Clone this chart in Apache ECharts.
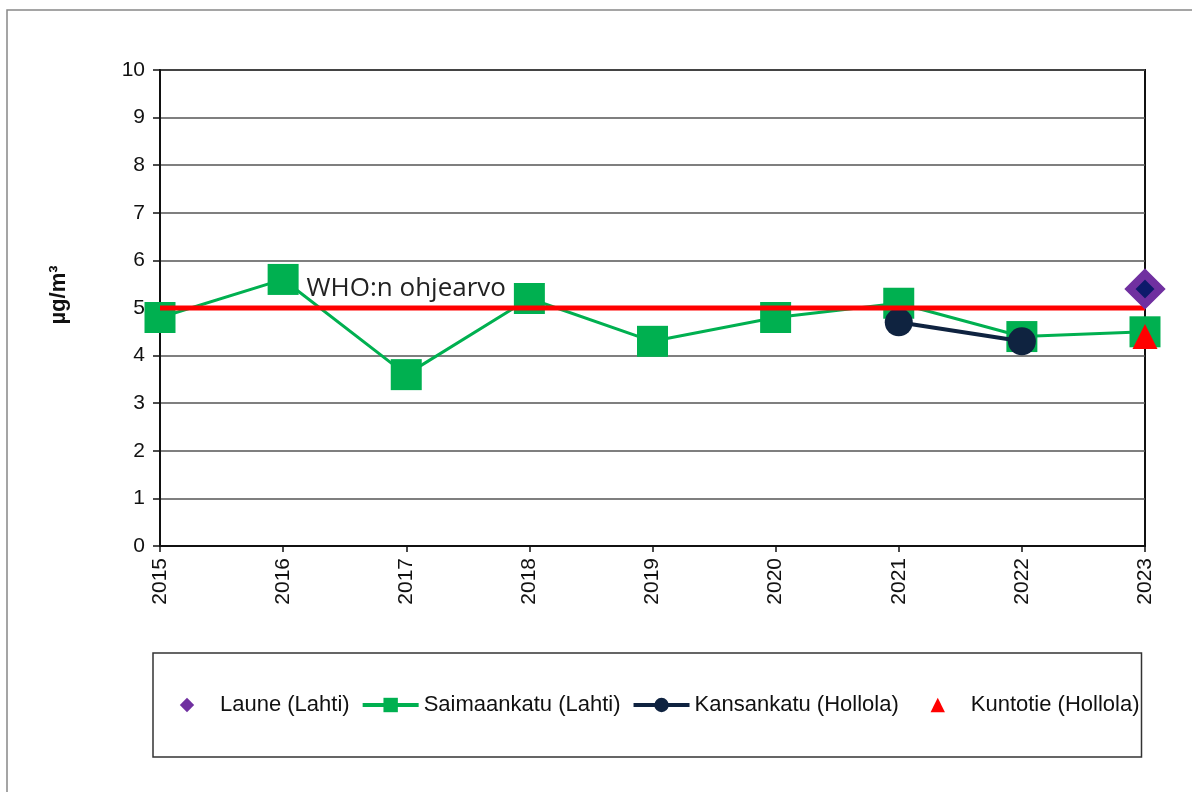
<!DOCTYPE html>
<html>
<head>
<meta charset="utf-8">
<script src="https://cdn.jsdelivr.net/npm/echarts@6/dist/echarts.min.js"></script>
<style>
  html, body { margin: 0; padding: 0; background: #fff; }
  #chart { width: 1192px; height: 792px; }
</style>
</head>
<body>
<div id="chart"></div>
<script>
// vuodet
var years = ["2015", "2016", "2017", "2018", "2019", "2020", "2021", "2022", "2023"];
// pitoisuudet ug/m3
var laune = [null, null, null, null, null, null, null, null, 5.4];
var saimaankatu = [4.8, 5.6, 3.6, 5.2, 4.3, 4.8, 5.1, 4.4, 4.5];
var kansankatu = [null, null, null, null, null, null, 4.7, 4.3, null];
var kuntotie = [null, null, null, null, null, null, null, null, 4.4];
// WHO:n ohjearvo
var who = [5, 5, 5, 5, 5, 5, 5, 5, 5];
var yTicks = [0, 1, 2, 3, 4, 5, 6, 7, 8, 9, 10];

var font = "Liberation Sans, Arial, sans-serif";
var chart = echarts.init(document.getElementById("chart"));

var option = {
  backgroundColor: "#fff",
  animation: false,
  graphic: [
    {
      type: "rect",
      shape: { x: 7, y: 10, width: 1200, height: 800 },
      style: { fill: "none", stroke: "#888", lineWidth: 1.5 },
      silent: true
    }
  ],
  grid: {
    left: 160,
    right: 47,
    top: 70,
    bottom: 246,
    show: true,
    borderColor: "#111",
    borderWidth: 2
  },
  legend: {
    left: 153,
    top: 653,
    padding: [41, 2, 41, 6],
    borderColor: "#333",
    borderWidth: 1.5,
    itemWidth: 56,
    itemHeight: 18,
    itemGap: 11,
    textStyle: { fontFamily: font, fontSize: 22, color: "#111" },
    data: [
      { name: "Laune (Lahti)", itemStyle: { color: "#7030A0", borderWidth: 0 } },
      { name: "Saimaankatu (Lahti)", lineStyle: { width: 4 } },
      { name: "Kansankatu (Hollola)", lineStyle: { width: 4 } },
      "Kuntotie (Hollola)"
    ]
  },
  xAxis: {
    type: "category",
    data: years,
    boundaryGap: false,
    axisLine: { lineStyle: { color: "#111", width: 2 } },
    axisTick: { show: true, length: 6, alignWithLabel: true, lineStyle: { color: "#111", width: 1.5 } },
    axisLabel: { rotate: 90, margin: 12, fontFamily: font, fontSize: 21, color: "#111" },
    splitLine: { show: false }
  },
  yAxis: {
    type: "value",
    min: 0,
    max: 10,
    interval: 1,
    name: "µg/m³",
    nameLocation: "middle",
    nameGap: 90,
    nameRotate: 90,
    nameTextStyle: { fontFamily: font, fontSize: 22, fontWeight: "bold", color: "#111", padding: [0, 0, 0, 26] },
    axisLine: { show: true, lineStyle: { color: "#111", width: 2 } },
    axisTick: { show: true, length: 7, lineStyle: { color: "#111", width: 1.5 } },
    axisLabel: {
      margin: 15,
      fontFamily: font,
      fontSize: 21,
      color: "#111",
      formatter: function (v) { return yTicks.indexOf(v) >= 0 ? String(v) : ""; }
    },
    splitLine: { show: true, lineStyle: { color: "#555", width: 1.5 } }
  },
  series: [
    {
      name: "Saimaankatu (Lahti)",
      type: "line",
      data: saimaankatu,
      symbol: "rect",
      symbolSize: 31,
      color: "#00B050",
      lineStyle: { color: "#00B050", width: 3 },
      itemStyle: { color: "#00B050" },
      z: 2
    },
    {
      name: "Kansankatu (Hollola)",
      type: "line",
      data: kansankatu,
      symbol: "circle",
      symbolSize: 28,
      color: "#0F2340",
      lineStyle: { color: "#0F2340", width: 4 },
      itemStyle: { color: "#0F2340" },
      z: 3
    },
    {
      name: "WHO",
      type: "line",
      data: who,
      symbol: "none",
      lineStyle: { color: "#FF0000", width: 5 },
      z: 4,
      markPoint: {
        symbol: "circle",
        symbolSize: 0,
        data: [{ coord: [2, 5] }],
        label: {
          show: true,
          formatter: "WHO:n ohjearvo",
          position: "top",
          distance: 6,
          fontFamily: "Open Sans, Noto Sans, sans-serif",
          fontSize: 26,
          color: "#222"
        }
      }
    },
    {
      name: "Laune (Lahti)",
      type: "line",
      data: laune,
      symbol: "diamond",
      symbolSize: 30,
      lineStyle: { width: 0 },
      color: "#7030A0",
      itemStyle: { color: "#0D1A6B", borderColor: "#7030A0", borderWidth: 8 },
      z: 5
    },
    {
      name: "Kuntotie (Hollola)",
      type: "line",
      data: kuntotie,
      symbol: "triangle",
      symbolSize: 25,
      lineStyle: { width: 0 },
      color: "#FF0000",
      itemStyle: { color: "#FF0000" },
      z: 6
    }
  ]
};

chart.setOption(option);
</script>
</body>
</html>
